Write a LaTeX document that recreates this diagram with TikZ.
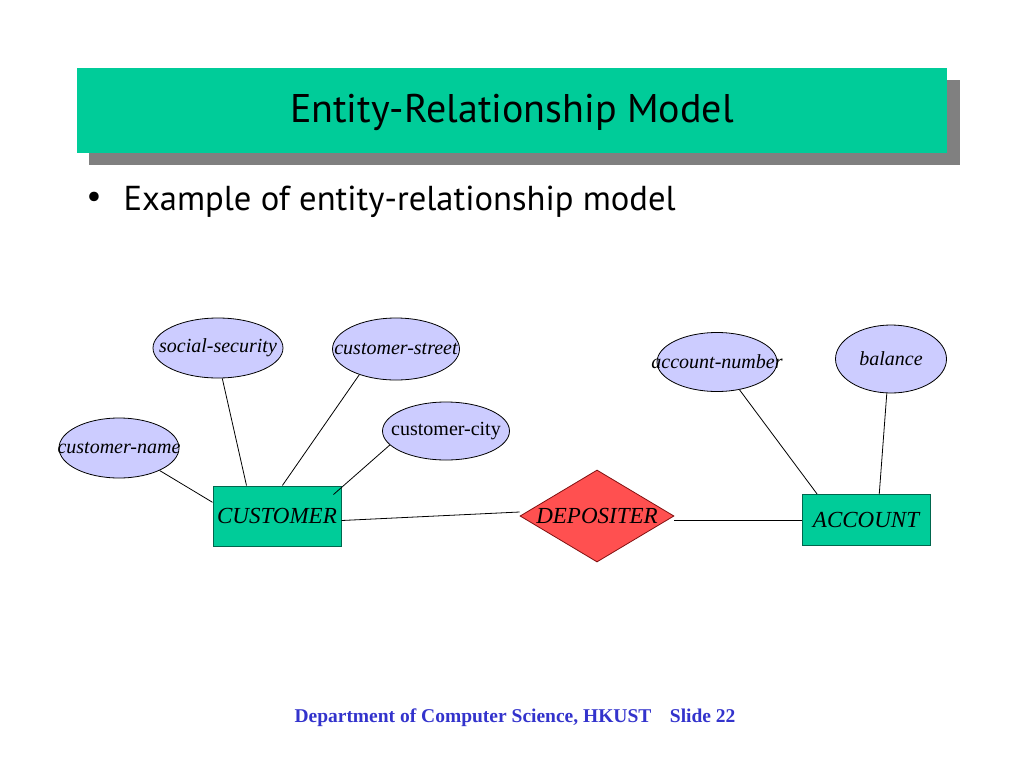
\documentclass[tikz,border=0pt]{standalone}
\usepackage{fontspec}
\setmainfont{Liberation Serif}
\newfontfamily\titolofont{PT Sans}
\usetikzlibrary{shapes.geometric,calc}
\definecolor{verde}{HTML}{00CC99}
\definecolor{verdescuro}{HTML}{00664D}
\definecolor{lilla}{HTML}{CCCCFF}
\definecolor{rosso}{HTML}{FF5050}
\definecolor{rossoscuro}{HTML}{801010}
\definecolor{ombra}{HTML}{808080}
\definecolor{blu}{HTML}{3333CC}
\begin{document}
\begin{tikzpicture}[x=1pt,y=-1pt]
    % Stili
    \tikzset{
        attr/.style={ellipse, draw, fill=lilla, inner sep=0pt, line width=0.8pt},
        attrtext/.style={inner sep=0pt, font=\fontsize{20}{20}\selectfont\itshape},
        entity/.style={rectangle, draw=verdescuro, fill=verde, inner sep=0pt, minimum width=128pt, line width=1pt, font=\fontsize{23}{23}\selectfont\itshape},
        rel/.style={diamond, aspect=1.67, draw=rossoscuro, fill=rosso, inner sep=0pt, minimum width=154pt, minimum height=92pt, line width=0.8pt, font=\fontsize{23}{23}\selectfont\itshape},
        link/.style={draw=black, line width=0.8pt}
    }
    \useasboundingbox (0,0) rectangle (1024,768);

    % Titolo
    \fill[ombra] (89,80) rectangle (960,165);
    \fill[verde] (77,68) rectangle (947,153);
    \node[font=\titolofont\fontsize{40}{40}\selectfont] (titolo) at (512,112) {Entity-Relationship Model};
    \node[font=\titolofont\fontsize{34}{34}\selectfont] (punto) at (94,200) {\textbullet};
    \node[font=\titolofont\fontsize{34.6}{34.6}\selectfont, anchor=west] (sottotitolo) at (120,202) {Example of entity-relationship model};

    % Attributi
    \node[attr, minimum width=130pt, minimum height=60pt, label={[attrtext]center:social-security}] (ss) at (218,348) {};
    \node[attr, minimum width=127pt, minimum height=62pt, label={[attrtext]center:customer-street}] (cst) at (396,349) {};
    \node[attr, minimum width=120pt, minimum height=60pt, label={[attrtext]center:customer-name}] (cn) at (119,448) {};
    \node[attr, minimum width=127pt, minimum height=58pt, label={[attrtext, font=\fontsize{20}{20}\selectfont]center:customer-city}] (cc) at (446,431) {};
    \node[attr, minimum width=120pt, minimum height=59pt, label={[attrtext]center:account-number}] (an) at (717,362) {};
    \node[attr, minimum width=111pt, minimum height=68pt, label={[attrtext]center:balance}] (bal) at (891,359) {};

    % Entita e relazione
    \node[entity, minimum height=60pt] (cust) at (277,516) {CUSTOMER};
    \node[entity, minimum height=51pt] (acc) at (866,520) {ACCOUNT};
    \node[rel] (dep) at (597,516) {DEPOSITER};

    % Collegamenti
    \draw[link] (cn.-29) -- (cust.168);
    \draw[link] (ss.-82) -- (cust.135);
    \draw[link] (cst.-145) -- (cust.80);
    \draw[link] (cc.-166) -- ($(cust.north east)+(-8,9)$);
    \draw[link] (cust.-4) -- ($(dep.west)+(0,-4)$);
    \draw[link] (acc.west) -- (acc.west -| dep.east);
    \draw[link] (an.-51) -- (acc.152);
    \draw[link] (bal.-97) -- (acc.63);

    % Piede
    \node[font=\fontsize{19.5}{19.5}\selectfont\bfseries, text=blu] (piede) at (515,718) {Department of Computer Science, HKUST\hspace{0.7em} Slide 22};
\end{tikzpicture}
\end{document}
